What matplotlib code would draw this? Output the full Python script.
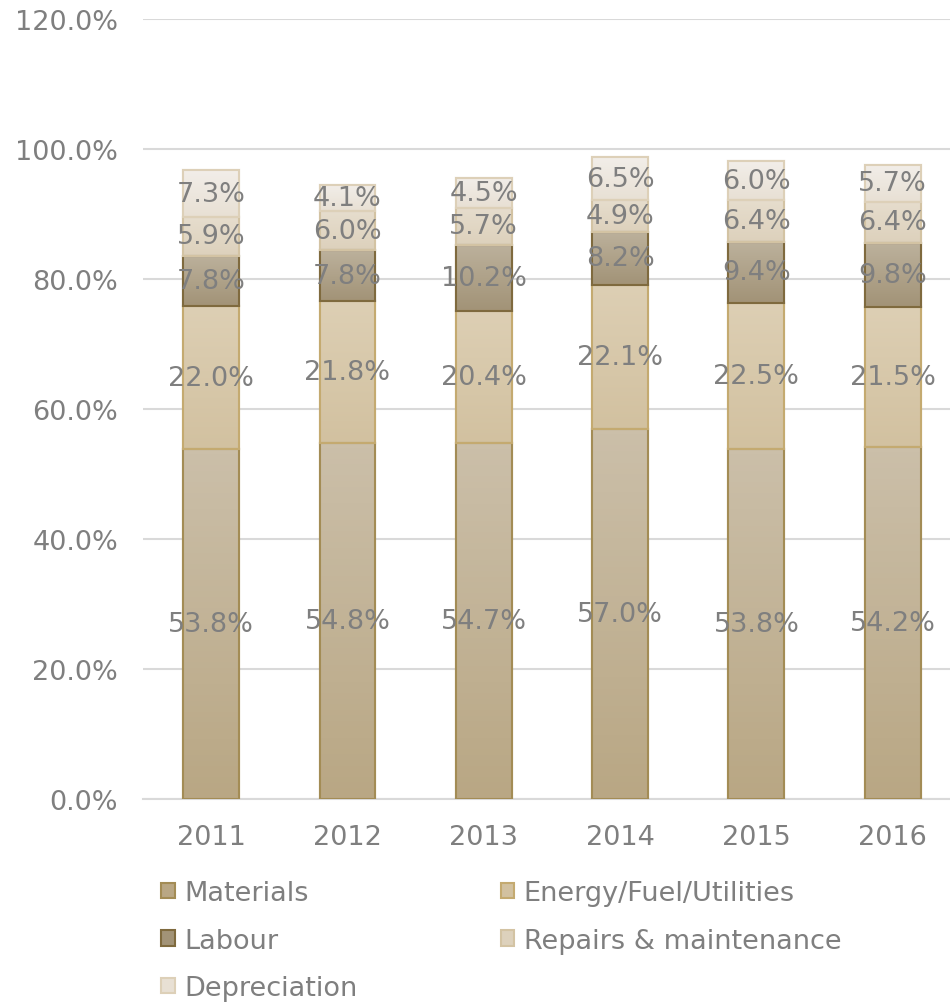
import numpy as np
import matplotlib
matplotlib.use("Agg")
import matplotlib.pyplot as plt
from matplotlib.colors import LinearSegmentedColormap

plt.rcParams["font.family"] = ["DejaVu Sans"]

# ----------------------------------------------------------------------
# Data (share of total cost, %)
# ----------------------------------------------------------------------
years = ["2011", "2012", "2013", "2014", "2015", "2016"]
materials = [53.8, 54.8, 54.7, 57.0, 53.8, 54.2]
energy = [22.0, 21.8, 20.4, 22.1, 22.5, 21.5]
labour = [7.8, 7.8, 10.2, 8.2, 9.4, 9.8]
repairs = [5.9, 6.0, 5.7, 4.9, 6.4, 6.4]
depreciation = [7.3, 4.1, 4.5, 6.5, 6.0, 5.7]

series = [
    ("Materials", materials),
    ("Energy/Fuel/Utilities", energy),
    ("Labour", labour),
    ("Repairs & maintenance", repairs),
    ("Depreciation", depreciation),
]

# (top colour, bottom colour, edge colour)
styles = [
    ("#cbbfa9", "#b9a784", "#a38c55"),
    ("#ddcfb4", "#d2c1a0", "#c4aa70"),
    ("#bcb19c", "#a29377", "#7f6a3e"),
    ("#e6ddcd", "#ddd1bc", "#d3c3a3"),
    ("#f2eee9", "#e8e0d4", "#ddd0b8"),
]

label_color = "#7f7f7f"
grid_color = "#d9d9d9"
fs = 19.5

fig = plt.figure(figsize=(9.5, 10.03), dpi=100)
ax = fig.add_axes([143 / 950, 1 - 800 / 1003, 807 / 950, 780 / 1003])

x = np.arange(len(years))
width = 0.41
bottom = np.zeros(len(years))
handles = []

for (name, vals), (ctop, cbot, cedge) in zip(series, styles):
    vals = np.array(vals)
    bars = ax.bar(x, vals, width, bottom=bottom, color=cbot,
                  edgecolor=cedge, linewidth=1.5, label=name, zorder=3)
    cmap = LinearSegmentedColormap.from_list(name, [cbot, ctop])
    grad = np.linspace(0, 1, 64).reshape(-1, 1)
    for b in bars:
        x0, y0 = b.get_x(), b.get_y()
        im = ax.imshow(grad, cmap=cmap, origin="lower", aspect="auto",
                       extent=(x0, x0 + b.get_width(), y0, y0 + b.get_height()),
                       zorder=3.5)
        im.set_clip_path(b)
    # redraw the outlines on top of the gradient
    ax.bar(x, vals, width, bottom=bottom, fill=False,
           edgecolor=cedge, linewidth=1.5, zorder=4)
    for xi, v, b0 in zip(x, vals, bottom):
        ax.text(xi, b0 + v / 2, f"{v:.1f}%", ha="center", va="center",
                fontsize=fs, color=label_color, zorder=5)
    handles.append(bars)
    bottom = bottom + vals

ax.set_xlim(-0.5, 5.42)
ax.set_ylim(0, 120)
ax.set_yticks(np.arange(0, 121, 20))
ax.set_yticklabels([f"{v:.1f}%" for v in np.arange(0, 121, 20)])
ax.set_xticks(x)
ax.set_xticklabels(years)
ax.tick_params(axis="both", length=0, labelsize=fs, labelcolor=label_color)
ax.tick_params(axis="y", pad=18)
ax.tick_params(axis="x", pad=18)
ax.grid(axis="y", color=grid_color, linewidth=1.5, zorder=0)
ax.set_axisbelow(True)
for s in ["top", "right", "left"]:
    ax.spines[s].set_visible(False)
ax.spines["bottom"].set_color(grid_color)
ax.spines["bottom"].set_linewidth(1.5)

names = [n for n, _ in series]
order = [0, 2, 4, 1, 3]
leg = fig.legend([handles[i] for i in order], [names[i] for i in order],
                 loc="upper left", bbox_to_anchor=(161 / 950, 1 - 881 / 1003),
                 ncol=2, frameon=False, fontsize=fs, handlelength=0.5,
                 handleheight=0.5, handletextpad=0.35, labelspacing=0.8,
                 columnspacing=5.3, labelcolor=label_color, borderpad=0,
                 borderaxespad=0)

fig.savefig("out.png", dpi=100)
